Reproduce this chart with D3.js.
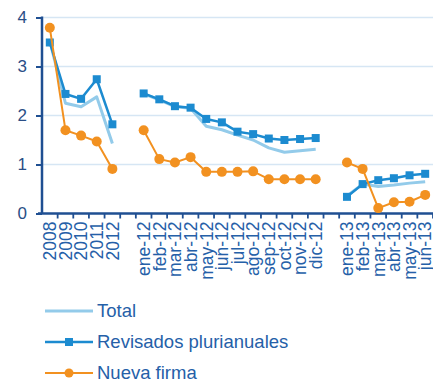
<!DOCTYPE html>
<html>
<head>
<meta charset="utf-8">
<script src="https://cdn.jsdelivr.net/npm/d3@7"></script>
<style>
  html, body { margin: 0; padding: 0; background: #ffffff; }
  svg { display: block; font-family: "Liberation Sans", Arial, sans-serif; }
</style>
</head>
<body>
<svg id="chart" width="433" height="383"></svg>
<script>
// Categories (empty strings separate the three periods on the axis)
const categories = ["2008", "2009", "2010", "2011", "2012", "",
  "ene-12", "feb-12", "mar-12", "abr-12", "may-12", "jun-12",
  "jul-12", "ago-12", "sep-12", "oct-12", "nov-12", "dic-12", " ",
  "ene-13", "feb-13", "mar-13", "abr-13", "may-13", "jun-13"];

const total = [3.52, 2.25, 2.18, 2.38, 1.43, null,
  2.44, 2.32, 2.18, 2.15, 1.78, 1.71, 1.60, 1.50, 1.34, 1.25, 1.28, 1.31, null,
  0.36, 0.60, 0.55, 0.58, 0.62, 0.65];

const revisados = [3.49, 2.44, 2.34, 2.74, 1.82, null,
  2.45, 2.33, 2.19, 2.16, 1.93, 1.86, 1.67, 1.62, 1.53, 1.50, 1.52, 1.54, null,
  0.34, 0.60, 0.68, 0.72, 0.78, 0.81];

const nueva = [3.79, 1.70, 1.59, 1.47, 0.91, null,
  1.70, 1.11, 1.04, 1.15, 0.85, 0.85, 0.85, 0.86, 0.70, 0.70, 0.70, 0.70, null,
  1.04, 0.91, 0.11, 0.23, 0.24, 0.38];

const yTicks = [0, 1, 2, 3, 4];
const legendLabels = ["Total", "Revisados plurianuales", "Nueva firma"];

const colors = {
  total: "#93cbea",
  revisados: "#1c8bd0",
  nueva: "#f29120",
  axis: "#1f4f92",
  grid: "#d6e6f4",
  text: "#2560a8"
};

const svg = d3.select("#chart");
const plotLeft = 42, plotRight = 433, plotTop = 17.5, plotBottom = 213.5;

const x = d3.scaleBand().domain(categories).range([plotLeft, plotRight]).padding(0);
const y = d3.scaleLinear().domain([0, 4]).range([plotBottom, plotTop]);
const cx = c => x(c) + x.bandwidth() / 2;

// Horizontal gridlines
svg.append("g")
  .selectAll("line")
  .data(yTicks.filter(d => d > 0))
  .join("line")
  .attr("x1", plotLeft).attr("x2", plotRight)
  .attr("y1", d => y(d)).attr("y2", d => y(d))
  .attr("stroke", colors.grid).attr("stroke-width", 1.5);

// Y axis
const yAxis = svg.append("g")
  .attr("transform", `translate(${plotLeft},0)`)
  .call(d3.axisLeft(y).tickValues(yTicks).tickSize(6).tickPadding(9).tickFormat(d3.format("d")));
yAxis.select(".domain").attr("stroke", colors.axis).attr("stroke-width", 2.5)
  .attr("d", `M0,${y(4) - 1}V${plotBottom}`);
yAxis.selectAll(".tick line").attr("stroke", colors.axis).attr("stroke-width", 2);
yAxis.selectAll(".tick text")
  .attr("fill", "#2a4e86").attr("font-size", 17).attr("font-family", "Liberation Sans, Arial, sans-serif");

// X axis with ticks at band boundaries
const xg = svg.append("g");
xg.append("line")
  .attr("x1", plotLeft - 4).attr("x2", plotRight)
  .attr("y1", plotBottom).attr("y2", plotBottom)
  .attr("stroke", colors.axis).attr("stroke-width", 2.5);
xg.selectAll("line.tick")
  .data(categories)
  .join("line")
  .attr("class", "tick")
  .attr("x1", d => x(d) + x.bandwidth()).attr("x2", d => x(d) + x.bandwidth())
  .attr("y1", plotBottom).attr("y2", plotBottom + 5)
  .attr("stroke", colors.axis).attr("stroke-width", 1.8);
xg.selectAll("text")
  .data(categories.filter(c => c.trim() !== ""))
  .join("text")
  .attr("transform", d => `translate(${cx(d)},${plotBottom + 8}) rotate(-90)`)
  .attr("text-anchor", "end")
  .attr("dy", "0.36em")
  .attr("font-size", 17.5)
  .attr("fill", colors.text)
  .text(d => d);

function series(values) {
  return categories.map((c, i) => ({ c, v: values[i] }));
}

const line = d3.line()
  .defined(d => d.v !== null)
  .x(d => cx(d.c))
  .y(d => y(d.v));

// Total
svg.append("path")
  .datum(series(total))
  .attr("fill", "none")
  .attr("stroke", colors.total)
  .attr("stroke-width", 3)
  .attr("stroke-linejoin", "round")
  .attr("d", line);

// Revisados plurianuales
const rev = series(revisados);
svg.append("path")
  .datum(rev)
  .attr("fill", "none")
  .attr("stroke", colors.revisados)
  .attr("stroke-width", 2.5)
  .attr("stroke-linejoin", "round")
  .attr("d", line);
svg.append("g")
  .selectAll("rect")
  .data(rev.filter(d => d.v !== null))
  .join("rect")
  .attr("x", d => cx(d.c) - 4).attr("y", d => y(d.v) - 4)
  .attr("width", 8).attr("height", 8)
  .attr("fill", colors.revisados);

// Nueva firma
const nf = series(nueva);
svg.append("path")
  .datum(nf)
  .attr("fill", "none")
  .attr("stroke", colors.nueva)
  .attr("stroke-width", 2)
  .attr("stroke-linejoin", "round")
  .attr("d", line);
svg.append("g")
  .selectAll("circle")
  .data(nf.filter(d => d.v !== null))
  .join("circle")
  .attr("cx", d => cx(d.c)).attr("cy", d => y(d.v))
  .attr("r", 5)
  .attr("fill", colors.nueva);

// Legend
const legendRows = [
  { label: legendLabels[0], color: colors.total, marker: null, width: 3 },
  { label: legendLabels[1], color: colors.revisados, marker: "square", width: 2.5 },
  { label: legendLabels[2], color: colors.nueva, marker: "circle", width: 2 }
];
const lg = svg.append("g");
legendRows.forEach((r, i) => {
  const yy = 311 + i * 31;
  const g = lg.append("g").attr("transform", `translate(45,${yy})`);
  g.append("line").attr("x1", 0).attr("x2", 48).attr("y1", 0).attr("y2", 0)
    .attr("stroke", r.color).attr("stroke-width", r.width);
  if (r.marker === "square") {
    g.append("rect").attr("x", 20).attr("y", -4).attr("width", 8).attr("height", 8).attr("fill", r.color);
  } else if (r.marker === "circle") {
    g.append("circle").attr("cx", 24).attr("cy", 0).attr("r", 4.5).attr("fill", r.color);
  }
  g.append("text").attr("x", 52).attr("y", 0).attr("dy", "0.35em")
    .attr("font-size", 18.5).attr("fill", colors.text)
    .text(r.label);
});
</script>
</body>
</html>
